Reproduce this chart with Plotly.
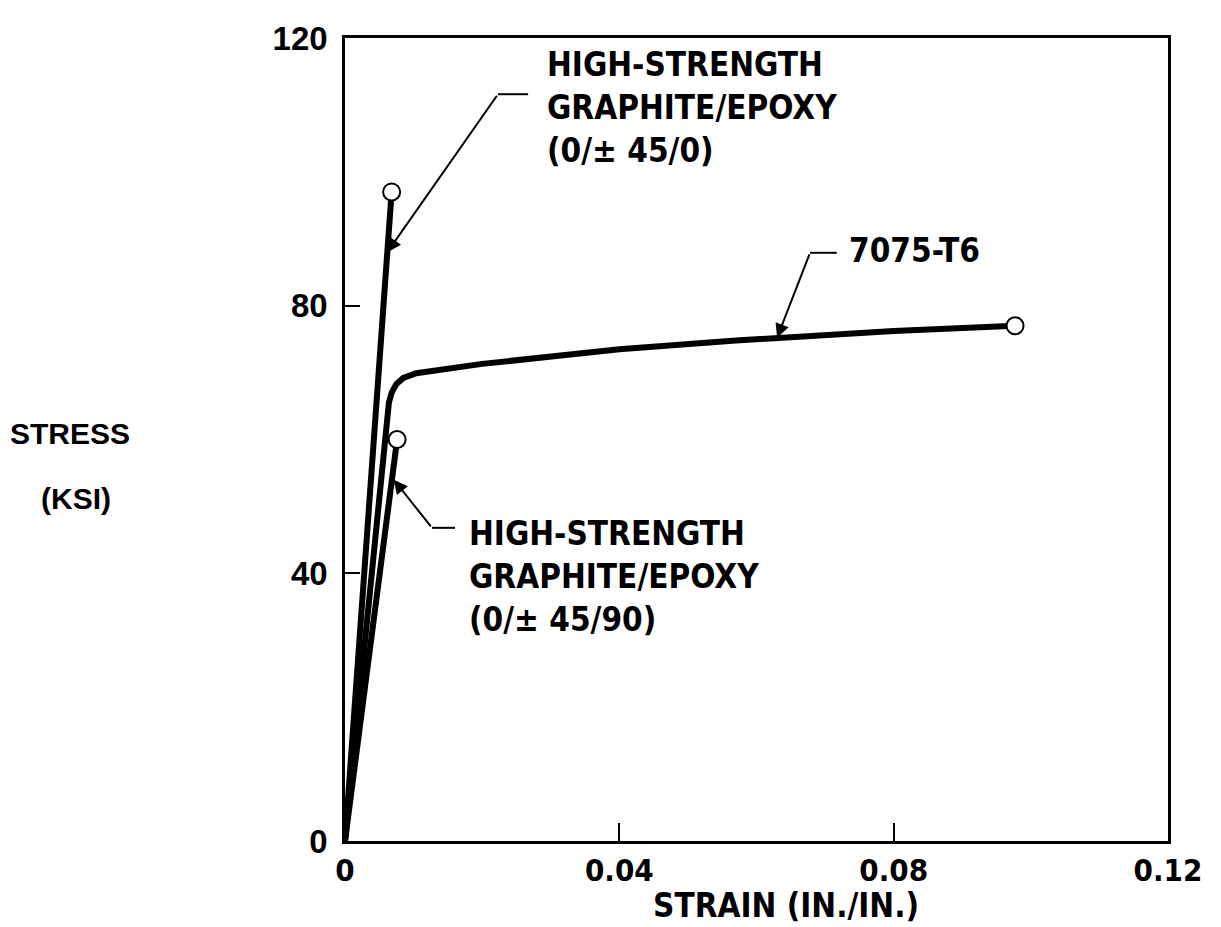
import plotly.graph_objects as go

# ---- data ----
strain_0_45_0 = [0.0, 0.0068]
stress_0_45_0 = [0.0, 97.0]

strain_0_45_90 = [0.0, 0.0076]
stress_0_45_90 = [0.0, 60.0]

strain_7075 = [0.0, 0.0061, 0.0064, 0.0068, 0.0075, 0.0085, 0.0104, 0.020, 0.040, 0.057, 0.080, 0.0977]
stress_7075 = [0.0, 63.5, 65.5, 67.0, 68.3, 69.2, 69.9, 71.3, 73.5, 74.8, 76.2, 77.0]

x_ticks = [0, 0.04, 0.08, 0.12]
x_tick_labels = ["0", "0.04", "0.08", "0.12"]
y_ticks = [0, 40, 80, 120]
y_tick_labels = ["0", "40", "80", "120"]

NARROW = "Liberation Sans Narrow, DejaVu Sans Condensed, Arial Narrow, sans-serif"
WIDE = "Liberation Sans, Arial, DejaVu Sans, sans-serif"

fig = go.Figure()

def curve(xs, ys):
    fig.add_trace(go.Scatter(
        x=xs, y=ys, mode="lines", line=dict(color="black", width=6),
        showlegend=False, hoverinfo="skip"))
    fig.add_trace(go.Scatter(
        x=[xs[-1]], y=[ys[-1]], mode="markers",
        marker=dict(size=17, color="white", line=dict(color="black", width=2)),
        showlegend=False, hoverinfo="skip"))

curve(strain_7075, stress_7075)
curve(strain_0_45_90, stress_0_45_90)
curve(strain_0_45_0, stress_0_45_0)

# ---- leader lines (elbow + arrow) ----
leaders = [
    # tip (x,y), elbow (x,y), stub end x
    ((0.00617, 88.0), (0.0223, 111.6), 0.0267),
    ((0.063, 75.2), (0.0678, 87.9), 0.0717),
    ((0.0071, 54.0), (0.01269, 46.8), 0.01604),
]
for (tx, ty), (ex, ey), sx in leaders:
    fig.add_annotation(x=tx, y=ty, ax=ex, ay=ey, xref="x", yref="y",
                       axref="x", ayref="y", text="", showarrow=True,
                       arrowhead=2, arrowsize=1.4, arrowwidth=2, arrowcolor="black")
    fig.add_shape(type="line", x0=ex, y0=ey, x1=sx, y1=ey, xref="x", yref="y",
                  line=dict(color="black", width=2))

label_font = dict(family=NARROW, size=33, color="black", weight="bold")
fig.add_annotation(x=0.243, y=0.913, xref="paper", yref="paper",
                   text="HIGH-STRENGTH<br>GRAPHITE/EPOXY<br>(0/± 45/0)",
                   showarrow=False, xanchor="left", yanchor="middle", align="left",
                   font=label_font)
fig.add_annotation(x=0.610, y=0.735, xref="paper", yref="paper",
                   text="7075-T6", showarrow=False, xanchor="left", yanchor="middle",
                   font=label_font)
fig.add_annotation(x=0.148, y=0.330, xref="paper", yref="paper",
                   text="HIGH-STRENGTH<br>GRAPHITE/EPOXY<br>(0/± 45/90)",
                   showarrow=False, xanchor="left", yanchor="middle", align="left",
                   font=label_font)

# axis titles
fig.add_annotation(x=-0.334, y=0.507, xref="paper", yref="paper", text="STRESS",
                   showarrow=False, xanchor="center", yanchor="middle",
                   font=dict(family=WIDE, size=30, color="black", weight="bold"))
fig.add_annotation(x=-0.327, y=0.427, xref="paper", yref="paper", text="(KSI)",
                   showarrow=False, xanchor="center", yanchor="middle",
                   font=dict(family=WIDE, size=30, color="black", weight="bold"))
fig.add_annotation(x=0.536, y=-0.080, xref="paper", yref="paper", text="STRAIN (IN./IN.)",
                   showarrow=False, xanchor="center", yanchor="middle",
                   font=dict(family=NARROW, size=33, color="black", weight="bold"))

fig.update_xaxes(range=[0, 0.12], tickvals=x_ticks, ticktext=x_tick_labels,
                 ticks="inside", ticklen=18, tickwidth=1.5, tickcolor="black",
                 showline=True, linecolor="black", linewidth=2.5, mirror=True,
                 showgrid=False, zeroline=False, ticklabeloverflow="allow",
                 tickfont=dict(family=NARROW, size=31, color="black", weight="bold"))
fig.update_yaxes(range=[0, 120], tickvals=y_ticks, ticktext=y_tick_labels,
                 ticks="inside", ticklen=15, tickwidth=1.5, tickcolor="black",
                 showline=True, linecolor="black", linewidth=2.5, mirror=True,
                 showgrid=False, zeroline=False, ticklabelstandoff=8,
                 ticklabeloverflow="allow",
                 tickfont=dict(family=WIDE, size=33, color="black", weight="bold"))

fig.update_layout(width=1221, height=927, plot_bgcolor="white", paper_bgcolor="white",
                  margin=dict(l=337, r=61, t=20, b=94), showlegend=False)

fig.write_html("out.html")
